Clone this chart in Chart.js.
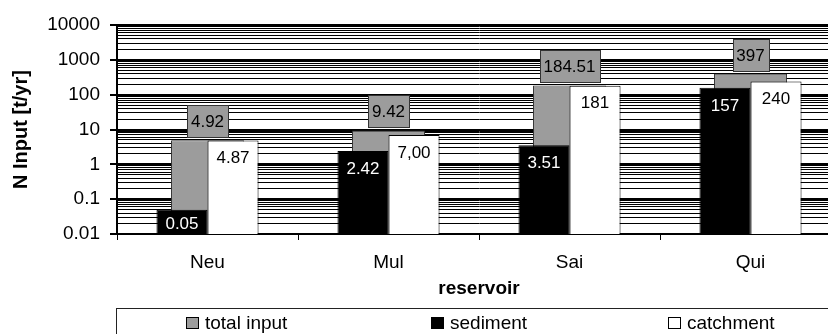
<!DOCTYPE html>
<html>
<head>
<meta charset="utf-8">
<script src="https://cdn.jsdelivr.net/npm/chart.js@4"></script>
<style>
  html, body { margin: 0; padding: 0; background: #fff; overflow: hidden; }
  #wrap { width: 846px; height: 334px; }
</style>
</head>
<body>
<div id="wrap"><canvas id="chart"></canvas></div>
<script>
var reservoirs = ['Neu', 'Mul', 'Sai', 'Qui'];
var totalInput = [4.92, 9.42, 184.51, 397];
var sediment = [0.05, 2.42, 3.51, 157];
var catchment = [4.87, 7.00, 181, 240];
// labels as printed on the bars
var totalInputText = ['4.92', '9.42', '184.51', '397'];
var sedimentText = ['0.05', '2.42', '3.51', '157'];
var catchmentText = ['4.87', '7,00', '181', '240'];
var yTickLabels = ['0.01', '0.1', '1', '10', '100', '1000', '10000'];

var FONT = '"Liberation Sans", Arial, sans-serif';

// one grid line for every 1..9 step of each decade
var gridValues = [];
for (var d = 0; d < yTickLabels.length - 1; d++) {
  var dec = Number(yTickLabels[d]);
  for (var k = 1; k < 10; k++) {
    gridValues.push(parseFloat((dec * k).toPrecision(6)));
  }
}
gridValues.push(Number(yTickLabels[yTickLabels.length - 1]));

var barLabels = {
  id: 'barLabels',
  afterDatasetsDraw: function(chart) {
    var ctx = chart.ctx;
    var texts = [totalInputText, sedimentText, catchmentText];
    ctx.save();
    ctx.font = '17px ' + FONT;
    ctx.textAlign = 'center';
    ctx.textBaseline = 'middle';
    chart.data.datasets.forEach(function(ds, di) {
      var meta = chart.getDatasetMeta(di);
      meta.data.forEach(function(bar, i) {
        var txt = texts[di][i];
        if (di === 0) {
          var w = Math.round(ctx.measureText(txt).width + 8), h = 32;
          var bx = Math.round(bar.x - w / 2), by = Math.round(bar.y - 3 - h);
          ctx.fillStyle = ds.backgroundColor;
          ctx.fillRect(bx, by, w, h);
          ctx.strokeStyle = '#333';
          ctx.lineWidth = 1;
          ctx.strokeRect(bx + 0.5, by + 0.5, w, h);
          ctx.fillStyle = '#000';
          ctx.fillText(txt, bar.x, by + h / 2 + 1);
        } else {
          var y = Math.min(bar.y + 18, bar.base - 10);
          ctx.fillStyle = di === 1 ? '#fff' : '#000';
          ctx.fillText(txt, bar.x, y);
        }
      });
    });
    ctx.restore();
  }
};

var legendBox = {
  id: 'legendBox',
  afterDraw: function(chart) {
    var ctx = chart.ctx, area = chart.chartArea;
    var left = Math.round(area.left) - 1, right = Math.round(area.right) + 1;
    var top = chart.height - 26;
    ctx.save();
    ctx.strokeStyle = '#222';
    ctx.lineWidth = 1;
    ctx.strokeRect(left + 0.5, top + 0.5, right - left, 40);
    ctx.font = '19px ' + FONT;
    ctx.textBaseline = 'middle';
    ctx.textAlign = 'left';
    var slot = (right - left) / 3;
    chart.data.datasets.forEach(function(ds, i) {
      var tw = ctx.measureText(ds.label).width;
      var box = 13, gap = 6;
      var x0 = Math.round(left + slot * (i + 0.5) - (box + gap + tw) / 2);
      var cy = top + 15;
      ctx.fillStyle = ds.backgroundColor;
      ctx.fillRect(x0, cy - 6, box, box - 1);
      ctx.strokeStyle = '#000';
      ctx.strokeRect(x0 + 0.5, cy - 6 + 0.5, box - 1, box - 2);
      ctx.fillStyle = '#000';
      ctx.fillText(ds.label, x0 + box + gap, cy + 1);
    });
    ctx.restore();
  }
};

new Chart(document.getElementById('chart'), {
  type: 'bar',
  data: {
    labels: reservoirs,
    datasets: [
      { label: 'total input', data: totalInput, backgroundColor: '#9c9c9c', borderColor: '#333',
        borderWidth: 1, grouped: false, categoryPercentage: 0.403, barPercentage: 1, order: 3 },
      { label: 'sediment', data: sediment, backgroundColor: '#000', borderColor: '#000',
        borderWidth: 1, categoryPercentage: 0.564, barPercentage: 1, order: 1 },
      { label: 'catchment', data: catchment, backgroundColor: '#fff', borderColor: '#000',
        borderWidth: 1, categoryPercentage: 0.564, barPercentage: 1, order: 2 }
    ]
  },
  options: {
    responsive: true,
    maintainAspectRatio: false,
    animation: false,
    devicePixelRatio: 1,
    layout: { padding: { top: 25, right: 5, bottom: 34, left: 0 } },
    plugins: { legend: { display: false }, tooltip: { enabled: false } },
    scales: {
      x: {
        offset: true,
        grid: { offset: true, drawOnChartArea: false, drawTicks: true, tickLength: 6, color: '#000', lineWidth: 1 },
        border: { color: '#000', width: 2 },
        ticks: { color: '#000', font: { family: FONT, size: 19 }, padding: 11 },
        title: { display: true, text: 'reservoir', color: '#000',
                 font: { family: FONT, size: 19, weight: 'bold' }, padding: { top: 0, bottom: 0 } },
        afterFit: function(s) { s.height = 66; }
      },
      y: {
        type: 'logarithmic',
        min: 0.01,
        max: 10000,
        afterBuildTicks: function(s) {
          s.ticks = gridValues.map(function(v) {
            return { value: v, major: yTickLabels.indexOf(String(v)) >= 0 };
          });
        },
        grid: {
          color: '#000',
          lineWidth: function(c) { return c.tick && c.tick.major ? 2 : 1; },
          tickColor: function(c) { return c.tick && c.tick.major ? '#000' : 'rgba(0,0,0,0)'; },
          tickLength: 7
        },
        border: { color: '#000', width: 2 },
        ticks: {
          autoSkip: false,
          color: '#000',
          padding: 10,
          font: { family: FONT, size: 19 },
          callback: function(value) {
            var s = String(value);
            return yTickLabels.indexOf(s) >= 0 ? s : '';
          }
        },
        title: { display: true, text: 'N Input [t/yr]', color: '#000',
                 font: { family: FONT, size: 20, weight: 'bold' }, padding: { top: 9, bottom: 0 } },
        afterFit: function(s) { s.width = 117; }
      }
    }
  },
  plugins: [barLabels, legendBox]
});
</script>
</body>
</html>
